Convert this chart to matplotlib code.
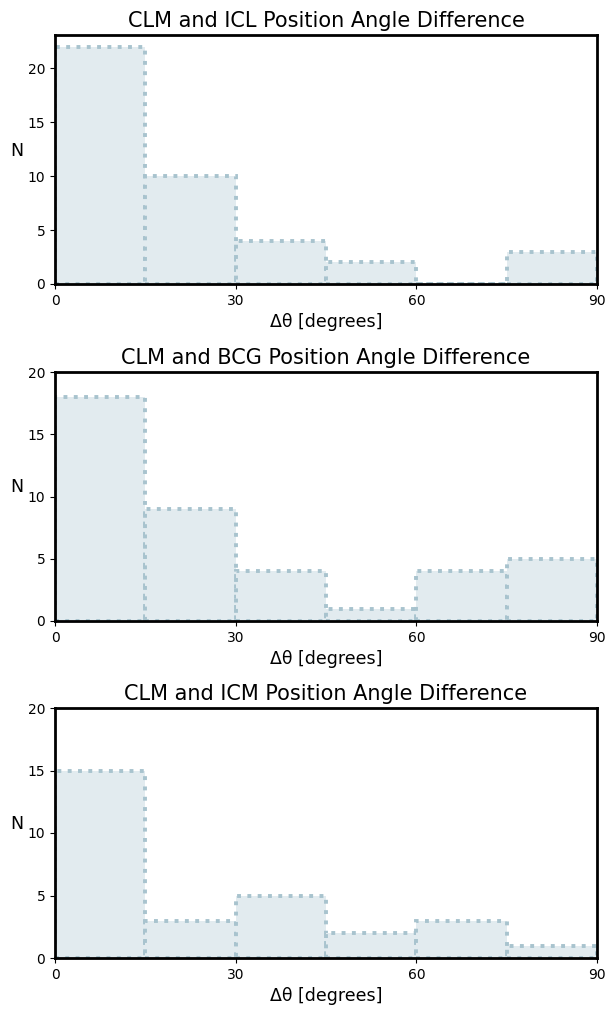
import numpy as np
import matplotlib
matplotlib.use('Agg')
import matplotlib.pyplot as plt

bin_edges = [0, 15, 30, 45, 60, 75, 90]
titles = ['CLM and ICL Position Angle Difference',
          'CLM and BCG Position Angle Difference',
          'CLM and ICM Position Angle Difference']
counts_icl = [22, 10, 4, 2, 0, 3]
counts_bcg = [18, 9, 4, 1, 4, 5]
counts_icm = [15, 3, 5, 2, 3, 1]
ylims = [23.1, 20, 20]

fill_color = '#e2ebef'
edge_color = '#a8c3ce'

fig = plt.figure(figsize=(6.15, 10.15), dpi=100)
W, H = 615, 1015
boxes = [(55, 35, 597, 284), (55, 372, 597, 621), (55, 708, 597, 958)]

for (x0, y0, x1, y1), title, counts, ymax in zip(boxes, titles,
                                                  [counts_icl, counts_bcg, counts_icm], ylims):
    ax = fig.add_axes([x0 / W, 1 - y1 / H, (x1 - x0) / W, (y1 - y0) / H])
    edges = np.array(bin_edges)
    ax.bar(edges[:-1], counts, width=np.diff(edges), align='edge',
           color=fill_color, edgecolor=edge_color, linestyle=':', linewidth=2.8)
    ax.set_xlim(0, 90)
    ax.set_ylim(0, ymax)
    ax.set_xticks([0, 30, 60, 90])
    ax.set_yticks([0, 5, 10, 15, 20])
    ax.set_title(title, fontsize=15)
    ax.set_xlabel('Δθ [degrees]', fontsize=12.5)
    ax.set_ylabel('N', fontsize=12.5, rotation=0, labelpad=8)
    for sp in ax.spines.values():
        sp.set_linewidth(2)

fig.savefig('out.png', dpi=100)
